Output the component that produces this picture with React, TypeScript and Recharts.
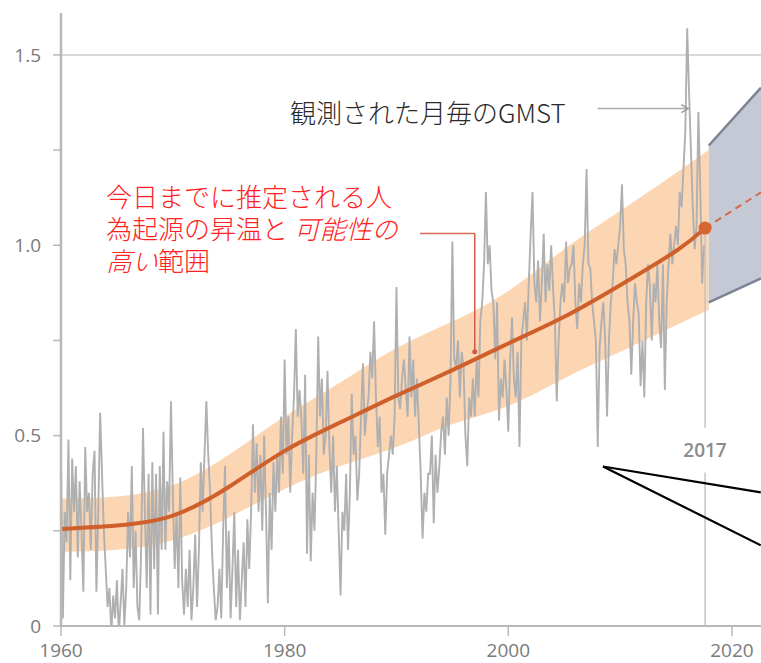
import React from 'react';
import { ComposedChart, Line, Area, XAxis, YAxis, ReferenceLine, ReferenceDot } from 'recharts';

// Observed monthly GMST (sampled every two months), 1960 .. 2017.5
const GMST_START = 1960;
const GMST_STEP = 1 / 6;
const GMST = [
  0.43, 0.02, 0.30, 0.22, 0.49, 0.12, // 1960
  0.44, 0.30, 0.42, 0.18, 0.38, 0.25, // 1961
  0.09, 0.47, 0.30, 0.35, 0.20, 0.40, // 1962
  0.46, 0.09, 0.30, 0.56, 0.40, 0.25, // 1963
  0.15, 0.05, 0.10, -0.02, 0.08, 0.02, // 1964
  0.12, -0.02, 0.06, 0.15, 0.00, 0.10, // 1965
  0.30, 0.18, 0.42, 0.10, 0.25, 0.05, // 1966
  0.015, 0.20, 0.52, 0.30, 0.10, 0.40, // 1967
  0.03, 0.43, 0.15, 0.40, 0.03, 0.42, // 1968
  0.20, 0.51, 0.20, 0.38, 0.30, 0.59, // 1969
  0.35, 0.15, 0.30, 0.10, 0.39, 0.12, // 1970
  0.03, 0.15, 0.05, 0.20, 0.015, 0.10, // 1971
  0.24, 0.05, 0.20, 0.43, 0.30, 0.45, // 1972
  0.59, 0.45, 0.35, 0.20, 0.10, 0.015, // 1973
  0.05, 0.15, 0.02, 0.25, 0.42, 0.10, // 1974
  0.25, 0.02, 0.15, 0.30, 0.05, 0.20, // 1975
  0.015, 0.12, 0.22, 0.05, 0.28, 0.15, // 1976
  0.30, 0.53, 0.35, 0.48, 0.30, 0.45, // 1977
  0.25, 0.50, 0.30, 0.06, 0.35, 0.20, // 1978
  0.43, 0.30, 0.45, 0.35, 0.55, 0.40, // 1979
  0.70, 0.45, 0.55, 0.35, 0.50, 0.60, // 1980
  0.78, 0.55, 0.62, 0.54, 0.40, 0.66, // 1981
  0.19, 0.45, 0.17, 0.35, 0.25, 0.45, // 1982
  0.76, 0.55, 0.65, 0.45, 0.50, 0.67, // 1983
  0.47, 0.35, 0.50, 0.30, 0.42, 0.25, // 1984
  0.08, 0.30, 0.25, 0.40, 0.20, 0.35, // 1985
  0.61, 0.45, 0.50, 0.33, 0.40, 0.55, // 1986
  0.69, 0.50, 0.56, 0.60, 0.72, 0.65, // 1987
  0.80, 0.60, 0.47, 0.55, 0.35, 0.40, // 1988
  0.24, 0.40, 0.45, 0.50, 0.45, 0.55, // 1989
  0.89, 0.60, 0.57, 0.65, 0.70, 0.62, // 1990
  0.55, 0.76, 0.60, 0.70, 0.55, 0.65, // 1991
  0.53, 0.40, 0.23, 0.35, 0.30, 0.40, // 1992
  0.40, 0.50, 0.27, 0.45, 0.35, 0.42, // 1993
  0.51, 0.55, 0.45, 0.60, 0.50, 0.65, // 1994
  1.01, 0.70, 0.68, 0.75, 0.60, 0.72, // 1995
  0.68, 0.50, 0.42, 0.60, 0.55, 0.65, // 1996
  0.55, 0.70, 0.60, 0.80, 0.85, 0.95, // 1997
  1.14, 0.95, 1.00, 0.88, 0.85, 0.70, // 1998
  0.85, 0.54, 0.65, 0.60, 0.70, 0.62, // 1999
  0.51, 0.70, 0.81, 0.65, 0.60, 0.72, // 2000
  0.47, 0.75, 0.80, 0.85, 0.75, 0.90, // 2001
  1.03, 1.14, 0.90, 0.85, 0.96, 0.80, // 2002
  0.90, 1.03, 0.85, 0.95, 0.88, 1.00, // 2003
  0.89, 0.80, 0.59, 0.75, 0.85, 0.90, // 2004
  0.85, 1.01, 0.90, 0.94, 0.95, 1.00, // 2005
  0.85, 0.78, 0.90, 0.85, 0.95, 1.00, // 2006
  1.20, 0.95, 0.94, 0.85, 0.80, 0.75, // 2007
  0.47, 0.73, 0.80, 0.85, 0.75, 0.55, // 2008
  0.75, 0.85, 0.90, 0.99, 0.95, 1.00, // 2009
  1.05, 1.16, 0.99, 0.95, 0.85, 0.80, // 2010
  0.66, 0.80, 0.90, 0.85, 0.82, 0.63, // 2011
  0.75, 0.60, 0.85, 0.95, 0.89, 0.75, // 2012
  0.90, 0.85, 0.95, 0.80, 0.73, 0.95, // 2013
  0.62, 0.85, 0.95, 1.03, 0.95, 1.00, // 2014
  1.05, 1.00, 1.14, 1.10, 1.20, 1.30, // 2015
  1.57, 1.40, 1.25, 1.10, 0.99, 1.05, // 2016
  1.35, 1.15, 0.90, 1.00, // 2017
];

// Estimated human-induced warming (central) and likely range
const TREND_YEARS = [1960, 1965, 1970, 1975, 1980, 1985, 1990, 1995, 2000, 2005, 2010, 2015, 2017.6];
const TREND = [0.255, 0.264, 0.29, 0.365, 0.46, 0.535, 0.605, 0.672, 0.742, 0.812, 0.895, 0.985, 1.045];

const BAND_YEARS = [1960, 1965, 1970, 1975, 1980, 1985, 1990, 1995, 2000, 2005, 2010, 2015, 2017.93];
const BAND_LOW = [0.195, 0.2, 0.225, 0.285, 0.36, 0.42, 0.47, 0.53, 0.578, 0.65, 0.72, 0.79, 0.83];
const BAND_HIGH = [0.335, 0.34, 0.37, 0.45, 0.55, 0.64, 0.73, 0.80, 0.88, 0.99, 1.09, 1.19, 1.25];

// Projection wedge and dashed continuation
const PROJ_YEARS = [2017.93, 2022.6];
const PROJ_LOW = [0.85, 0.913];
const PROJ_HIGH = [1.262, 1.414];
const DASH_YEARS = [2017.6, 2022.6];
const DASH = [1.045, 1.139];

// Annotation anchors (data units)
const NOW_YEAR = 2017.6;
const NOW_VALUE = 1.045;
const NOW_GAP = [0.403, 0.521];
const GMST_ARROW = { x1: 2008.0, x2: 2016.1, y: 1.359 };
const LEADER = { x1: 1992.1, x2: 1997.0, y1: 1.031, y2: 0.72 };
const POINTER = { x0: 2008.47, y0: 0.419, x1: 2022.58, yA: 0.351, yB: 0.212 };

// Axes
const X_DOMAIN = [1960, 2022.6];
const X_TICKS = [1960, 1980, 2000, 2020];
const Y_DOMAIN = [0, 1.61];
const Y_TICKS = [0, 0.25, 0.5, 0.75, 1.0, 1.25, 1.5];

const rowsMap = new Map<string, any>();
const row = (x: number) => {
  const k = x.toFixed(4);
  if (!rowsMap.has(k)) rowsMap.set(k, { x });
  return rowsMap.get(k);
};
GMST.forEach((v, i) => { row(GMST_START + i * GMST_STEP).gmst = v; });
TREND_YEARS.forEach((x, i) => { row(x).trend = TREND[i]; });
BAND_YEARS.forEach((x, i) => { row(x).band = [BAND_LOW[i], BAND_HIGH[i]]; });
PROJ_YEARS.forEach((x, i) => {
  const r = row(x);
  r.proj = [PROJ_LOW[i], PROJ_HIGH[i]];
  r.projLo = PROJ_LOW[i];
  r.projHi = PROJ_HIGH[i];
});
DASH_YEARS.forEach((x, i) => { row(x).dash = DASH[i]; });
const data = Array.from(rowsMap.values()).sort((a, b) => a.x - b.x);

const tickFont = { fontFamily: "'Open Sans', 'DejaVu Sans', sans-serif", fontSize: 19, fill: '#7a7a7a' };
const cjk = "'Noto Sans CJK JP', 'Noto Sans', sans-serif";

const yFmt = (v: number) => {
  if (v === 0) return '0';
  if (Math.abs(v * 2 - Math.round(v * 2)) < 1e-6) return v.toFixed(1);
  return '';
};

const ArrowShape = (props: any) => {
  const { x1, y1, x2, y2 } = props;
  return (
    <g>
      <line x1={x1} y1={y1} x2={x2} y2={y2} stroke="#aaaaaa" strokeWidth={1.6} />
      <path d={`M ${x2 - 7} ${y2 - 4} L ${x2} ${y2} L ${x2 - 7} ${y2 + 4}`} fill="none" stroke="#999999" strokeWidth={1.4} />
    </g>
  );
};

export default function App() {
  return (
    <div style={{ position: 'absolute', left: 0, top: 0, width: 761, height: 663, background: '#fff' }}>
      <ComposedChart width={761} height={663} data={data} margin={{ top: 13, right: 0, bottom: 0, left: 0 }}>
        <XAxis
          dataKey="x"
          type="number"
          domain={X_DOMAIN}
          allowDataOverflow
          ticks={X_TICKS}
          tickSize={10}
          tickMargin={8}
          height={37}
          axisLine={{ stroke: '#b8b8b8', strokeWidth: 2 }}
          tickLine={{ stroke: '#b8b8b8', strokeWidth: 1.5 }}
          tick={tickFont}
          interval={0}
        />
        <YAxis
          type="number"
          domain={Y_DOMAIN}
          allowDataOverflow
          ticks={Y_TICKS}
          tickFormatter={yFmt}
          tickSize={8}
          tickMargin={12}
          width={61}
          axisLine={{ stroke: '#b8b8b8', strokeWidth: 2.5 }}
          tickLine={{ stroke: '#b8b8b8', strokeWidth: 1.5 }}
          tick={tickFont}
          interval={0}
        />
        <ReferenceLine y={1.5} stroke="#cdcdcd" strokeWidth={1.5} />
        <ReferenceLine segment={[{ x: NOW_YEAR, y: 0 }, { x: NOW_YEAR, y: NOW_GAP[0] }]} stroke="#c4c4c4" strokeWidth={1.5} />
        <ReferenceLine segment={[{ x: NOW_YEAR, y: NOW_GAP[1] }, { x: NOW_YEAR, y: NOW_VALUE }]} stroke="#c4c4c4" strokeWidth={1.5} />
        <Line dataKey="gmst" type="linear" stroke="#b0b0b0" strokeWidth={1.9} dot={false} connectNulls isAnimationActive={false} />
        <Area dataKey="band" type="natural" stroke="none" fill="#f9a557" fillOpacity={0.45} connectNulls isAnimationActive={false} />
        <Line dataKey="trend" type="natural" stroke="#cf5f2b" strokeWidth={4} dot={false} connectNulls isAnimationActive={false} />
        <Area dataKey="proj" type="linear" stroke="none" fill="#c5c9d6" fillOpacity={1} connectNulls isAnimationActive={false} />
        <Line dataKey="projHi" type="linear" stroke="#7c8392" strokeWidth={2.5} dot={false} connectNulls isAnimationActive={false} />
        <Line dataKey="projLo" type="linear" stroke="#7c8392" strokeWidth={2.5} dot={false} connectNulls isAnimationActive={false} />
        <Line dataKey="dash" type="linear" stroke="#d2694a" strokeWidth={2} strokeDasharray="7 5" dot={false} connectNulls isAnimationActive={false} />
        <ReferenceDot x={NOW_YEAR} y={NOW_VALUE} r={6.5} fill="#d6652f" stroke="none" />
        <ReferenceLine segment={[{ x: LEADER.x1, y: LEADER.y1 }, { x: LEADER.x2, y: LEADER.y1 }]} stroke="#da6a55" strokeWidth={1.5} />
        <ReferenceLine segment={[{ x: LEADER.x2, y: LEADER.y1 }, { x: LEADER.x2, y: LEADER.y2 }]} stroke="#cf5a45" strokeWidth={1.5} />
        <ReferenceDot x={LEADER.x2} y={LEADER.y2} r={2.5} fill="#cf5a45" stroke="none" />
        <ReferenceLine segment={[{ x: GMST_ARROW.x1, y: GMST_ARROW.y }, { x: GMST_ARROW.x2, y: GMST_ARROW.y }]} shape={ArrowShape} />
        <ReferenceLine segment={[{ x: POINTER.x0, y: POINTER.y0 }, { x: POINTER.x1, y: POINTER.yA }]} stroke="#000" strokeWidth={2.2} />
        <ReferenceLine segment={[{ x: POINTER.x0, y: POINTER.y0 }, { x: POINTER.x1, y: POINTER.yB }]} stroke="#000" strokeWidth={2.2} />
      </ComposedChart>
      <svg width={761} height={663} style={{ position: 'absolute', left: 0, top: 0, pointerEvents: 'none' }}>
        <text x={290} y={122.5} fontFamily={cjk} fontSize={26} fontWeight={300} fill="#2a2a2a">観測された月毎のGMST</text>
        <g fontFamily={cjk} fontSize={26} fontWeight={300} fill="#ff2222">
          <text x={106} y={207}>今日までに推定される人</text>
          <text x={106} y={239}>為起源の昇温と <tspan fontStyle="italic">可能性の</tspan></text>
          <text x={106} y={271}><tspan fontStyle="italic">高い</tspan>範囲</text>
        </g>
        <text x={705} y={456.5} textAnchor="middle" fontFamily="'Open Sans', sans-serif" fontSize={19} fontWeight={600} fill="#8c8c8c">2017</text>
      </svg>
    </div>
  );
}
